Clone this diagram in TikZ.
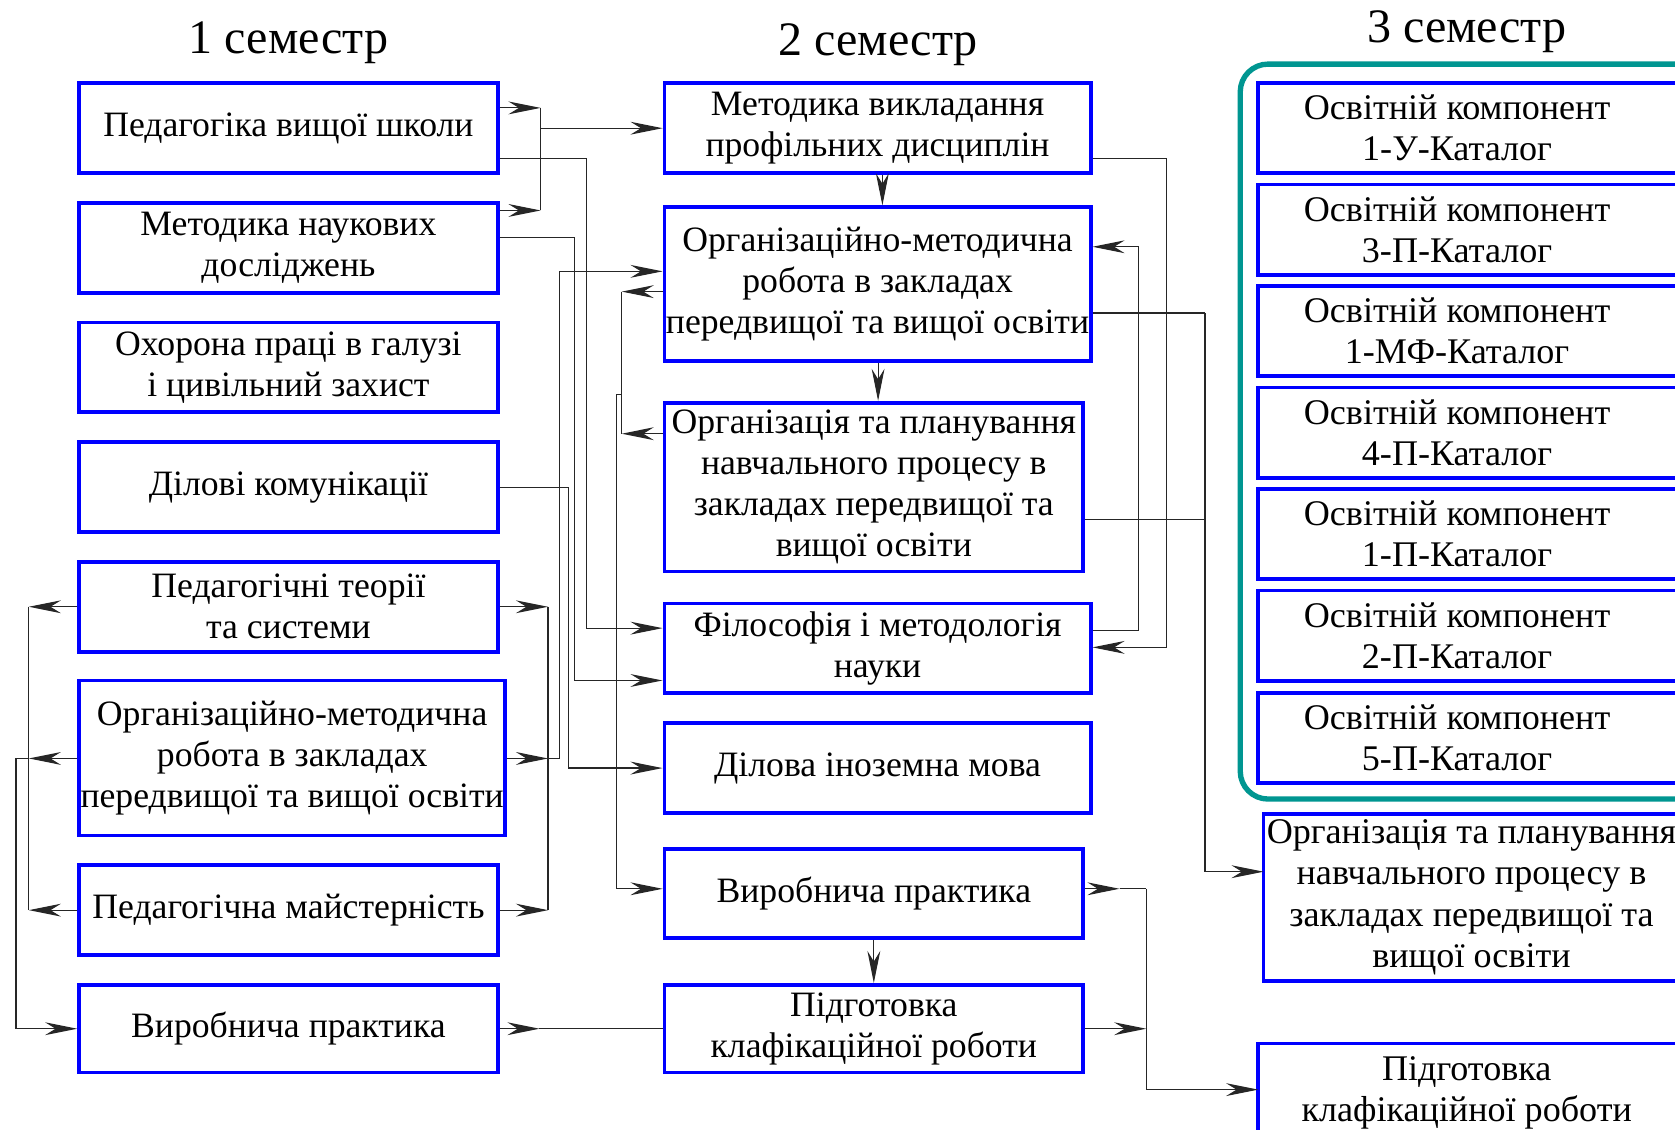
\documentclass[tikz,border=0pt]{standalone}
\usepackage{fontspec}
\setmainfont{Liberation Serif}
\usetikzlibrary{arrows.meta,calc}
\definecolor{boxblue}{RGB}{0,0,255}
\definecolor{frameteal}{RGB}{0,150,145}
\begin{document}
\begin{tikzpicture}[x=1pt,y=-1pt,
  bx/.style={draw=boxblue, line width=3.5pt, align=center, inner sep=0pt,
    font=\fontsize{33.4}{38.5}\selectfont, minimum height=84pt, minimum width=392pt},
  txt/.style={align=center, inner sep=0pt, font=\fontsize{33.8}{38.5}\selectfont,
    minimum height=84pt},
  blueframe/.style={draw=boxblue, line width=3.5pt},
  conn/.style={line width=1.1pt, draw=black!85},
  arr/.style={conn, -{Stealth[length=30pt,width=12pt]}},
  semtitle/.style={font=\fontsize{45}{50}\selectfont, inner sep=0pt}]
\useasboundingbox (0,0) rectangle (1568,1057);
\fill[white] (0,0) rectangle (1568,1057);

% titles
\node[semtitle] (t1) at (270,40) {1 семестр};
\node[semtitle] (t2) at (822,42) {2 семестр};
\node[semtitle] (t3) at (1373,30) {3 семестр};

% column 1
\node[bx] (pvsh) at (270,120) {Педагогіка вищої школи};
\node[bx] (mnd)  at (270,232) {Методика наукових\\досліджень};
\node[bx] (ohp)  at (270,344) {Охорона праці в галузі\\і цивільний захист};
\node[bx] (dk)   at (270,456) {Ділові комунікації};
\node[bx] (pts)  at (270,568) {Педагогічні теорії\\та системи};
\node[bx, minimum width=399pt, minimum height=145pt] (omr1) at (273.5,709.5)
  {Організаційно-методична\\робота в закладах\\передвищої та вищої освіти};
\node[bx] (pm)   at (270,852) {Педагогічна майстерність};
\node[bx, minimum height=82pt] (vp1) at (270,963) {Виробнича практика};

% column 2
\node[bx, minimum width=399pt] (mvpd) at (821.5,120) {Методика викладання\\профільних дисциплін};
\node[bx, minimum width=399pt, minimum height=144pt] (omr2) at (821.5,266)
  {Організаційно-методична\\робота в закладах\\передвищої та вищої освіти};
\node[bx, minimum height=158pt] (otp2) at (818,456)
  {Організація та планування\\навчального процесу в\\закладах передвищої та\\вищої освіти};
\node[bx, minimum width=399pt] (fmn) at (821.5,607) {Філософія і методологія\\науки};
\node[bx, minimum width=399pt] (dim) at (821.5,719) {Ділова іноземна мова};
\node[bx, minimum height=83pt] (vp2) at (818,836.5) {Виробнича практика};
\node[bx, minimum height=82pt] (pkr2) at (818,963) {Підготовка\\клафікаційної роботи};

% column 3
\draw[draw=frameteal, line width=5pt, rounded corners=26pt] (1161,60) rectangle (1640,748);
\node[txt, minimum width=372pt] (c1) at (1364,120) {Освітній компонент\\1-У-Каталог};
\node[txt, minimum width=372pt] (c2) at (1364,215) {Освітній компонент\\3-П-Каталог};
\node[txt, minimum width=372pt] (c3) at (1364,310) {Освітній компонент\\1-МФ-Каталог};
\node[txt, minimum width=372pt] (c4) at (1364,405) {Освітній компонент\\4-П-Каталог};
\node[txt, minimum width=372pt] (c5) at (1364,500) {Освітній компонент\\1-П-Каталог};
\node[txt, minimum width=372pt] (c6) at (1364,595) {Освітній компонент\\2-П-Каталог};
\node[txt, minimum width=372pt] (c7) at (1364,691) {Освітній компонент\\5-П-Каталог};
\foreach \c in {c1,c2,c3,c4,c5,c6,c7}
  \draw[blueframe] (\c.north west) rectangle ([xshift=80pt]\c.south east);
\node[txt, minimum width=389pt, minimum height=156pt] (otp3) at (1377.5,840)
  {Організація та планування\\навчального процесу в\\закладах передвищої та\\вищої освіти};
\draw[blueframe] (otp3.north west) rectangle ([xshift=80pt]otp3.south east);
\node[txt, minimum width=390pt, minimum height=92pt] (pkr3) at (1373,1023) {Підготовка\\клафікаційної роботи};
\draw[blueframe] (pkr3.north west) rectangle ([xshift=80pt,yshift=-40pt]pkr3.south east);

% junction coordinates
\coordinate (ja1) at (506,101);
\coordinate (ja2) at (506,197);
\coordinate (ja3) at (506,120);
\coordinate (jb1) at (513,568);
\coordinate (jb2) at (513,852);
\coordinate (jb3) at (513,710);
\coordinate (jl1) at (27,568);
\coordinate (jl2) at (27,852);
\coordinate (jl3) at (27,710);
\coordinate (jv1) at (505,963);
\coordinate (jk1) at (582,273);
\coordinate (jk2) at (582,406);
\coordinate (jk3) at (582,369);
\coordinate (jq1) at (1128,293);
\coordinate (jq2) at (1128,486);
\coordinate (jr1) at (1048,832);
\coordinate (jr2) at (1073,832);
\coordinate (jr3) at (1073,963);

% column 1 -> column 2
\draw[arr] (pvsh.east |- ja1) -- (ja1);
\draw[arr] (mnd.east |- ja2) -- (ja2);
\draw[conn] (ja1) -- (ja2);
\draw[arr] (ja3) -- (mvpd.west |- ja3);
\draw[arr] (pvsh.east |- 0,148) -- (549,148) -- (549,588) -- (fmn.west |- 0,588);
\draw[arr] (mnd.east |- 0,222) -- (538,222) -- (538,637) -- (fmn.west |- 0,637);
\draw[arr] (dk.east) -- (532,456) -- (532,719) -- (dim.west);
\draw[arr] (pts.east) -- (jb1);
\draw[arr] (pm.east) -- (jb2);
\draw[conn] (jb1) -- (jb2);
\draw[arr] (omr1.east |- jb3) -- (jb3);
\draw[arr] (jb3) -- (524,710) -- (524,254) -- (omr2.west |- 0,254);

% column 1 left side
\draw[arr] (pts.west) -- (jl1);
\draw[arr] (pm.west) -- (jl2);
\draw[conn] (jl1) -- (jl2);
\draw[arr] (omr1.west |- jl3) -- (jl3);
\draw[arr] (jl3) -- (15,710) -- (15,963) -- (vp1.west);

% bottom row
\draw[arr] (vp1.east) -- (jv1);
\draw[conn] (jv1) -- (pkr2.west);

% column 2 left side
\draw[arr] (omr2.west |- jk1) -- (jk1);
\draw[arr] (otp2.west |- jk2) -- (jk2);
\draw[conn] (jk1) -- (jk2);
\draw[arr] (jk3) -- (577,369) -- (577,832) -- (vp2.west |- 0,832);

% column 2 vertical
\draw[arr] (mvpd.south -| 826,0) -- (omr2.north -| 826,0);
\draw[arr] (omr2.south -| 822,0) -- (otp2.north -| 822,0);
\draw[arr] (vp2.south -| 818,0) -- (pkr2.north -| 818,0);

% column 2 right side
\draw[arr] (mvpd.east |- 0,148) -- (1092,148) -- (1092,606) -- (fmn.east |- 0,606);
\draw[arr] (fmn.east |- 0,590) -- (1066,590) -- (1066,231) -- (omr2.east |- 0,231);
\draw[conn] (omr2.east |- jq1) -- (jq1);
\draw[conn] (otp2.east |- jq2) -- (jq2);
\draw[arr] (jq1) -- (1128,816) -- (otp3.west |- 0,816);
\draw[arr] (vp2.east |- jr1) -- (jr1);
\draw[conn] (jr1) -- (jr2);
\draw[arr] (pkr2.east) -- (jr3);
\draw[arr] (jr2) -- (1073,1020) -- (pkr3.west |- 0,1020);
\end{tikzpicture}
\end{document}
